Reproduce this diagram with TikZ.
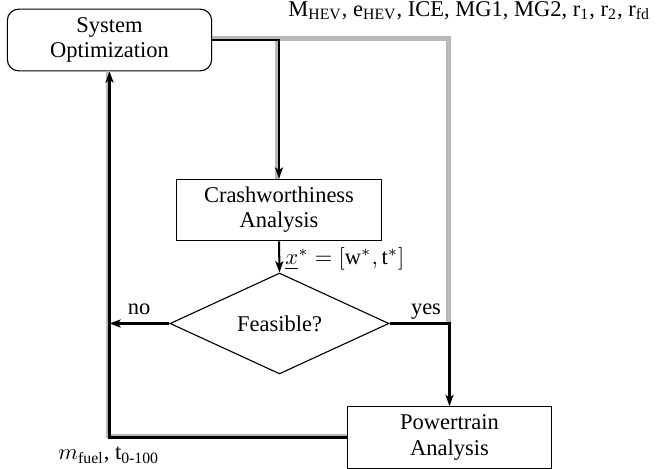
\documentclass[tikz,border=0pt]{standalone}
\usepackage{fontspec}
\setmainfont{Liberation Serif}
\usetikzlibrary{shapes.geometric,arrows.meta}
\definecolor{busgray}{gray}{0.72}
\begin{document}
\begin{tikzpicture}[x=0.4444pt,y=-0.4444pt,
  every node/.style={font=\fontsize{10}{11.2}\selectfont},
  procbox/.style={draw,line width=0.5pt,align=center,inner sep=0pt,
    minimum width=90.8pt,minimum height=27.4pt},
  decision/.style={draw,line width=0.5pt,diamond,inner sep=0pt,
    minimum width=97.3pt,minimum height=32pt},
  flow/.style={line width=0.9pt,-{Stealth[length=5pt,width=3.6pt,inset=1.2pt]}},
  flowline/.style={line width=0.9pt},
  databus/.style={line width=2pt,busgray},
  lbl/.style={inner sep=0pt}]
\useasboundingbox (0,0) rectangle (657,469);

% process nodes
\node[procbox,rounded corners=5pt] (sysopt) at (109.5,40) {System\\Optimization};
\node[procbox] (crash) at (279,210) {Crashworthiness\\Analysis};
\node[decision] (feas) at (279.5,323.5) {Feasible?};
\node[procbox] (power) at (449.5,437.5) {Powertrain\\Analysis};
\coordinate (yescorner) at (power.north |- feas.east);

% grey data lines, drawn underneath the process flow
\draw[databus] ([yshift=0.6pt]sysopt.east) -| ([xshift=-0.4pt]yescorner);
\draw[databus] ([yshift=0.6pt]sysopt.east) -| ([xshift=-0.7pt]crash.north);
\draw[databus] ([yshift=0.7pt]power.west) -| ([xshift=-0.7pt]sysopt.south);

% process flow
\draw[flow] (sysopt.east) -| (crash.north);
\draw[flow] (crash.south) -- (feas.north);
\draw[flow] (feas.west) -- (feas.west -| sysopt.south);
\draw[flow] (feas.east) -| (power.north);
\draw[flow] (power.west) -| (sysopt.south);

% labels
\node[lbl,anchor=base west] (vars) at (288,16.5)
  {M\textsubscript{HEV}, e\textsubscript{HEV}, ICE, MG1, MG2, r\textsubscript{1}, r\textsubscript{2}, r\textsubscript{fd}};
\node[lbl,anchor=base west] (xstar) at (285,265)
  {$\underline{x}^{*}=[\mathrm{w}^{*},\mathrm{t}^{*}]$};
\node[lbl,anchor=base] (no) at (139,315) {no};
\node[lbl,anchor=base] (yes) at (426,315) {yes};
\node[lbl,anchor=base west] (outs) at (58,460)
  {$m$\textsubscript{fuel}, t\textsubscript{0-100}};
\end{tikzpicture}
\end{document}
